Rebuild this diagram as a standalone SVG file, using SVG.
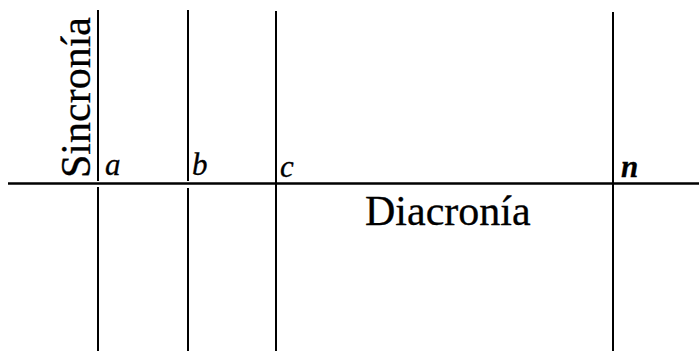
<svg xmlns="http://www.w3.org/2000/svg" width="699" height="351" viewBox="0 0 699 351">
<style>
.ln{stroke:#000;stroke-width:2;fill:none}
.ax{stroke:#000;stroke-width:2.6;fill:none}
.big{font-family:"Liberation Serif","Times New Roman",serif;font-size:42px;fill:#000;stroke:#000;stroke-width:0.3}
.lab{font-family:"Liberation Serif","Times New Roman",serif;font-style:italic;font-size:31px;fill:#000;stroke:#000;stroke-width:0.3}
</style>
<rect width="699" height="351" fill="#fff"/>
<g id="connectors">
<line class="ax" x1="8" y1="183.5" x2="699" y2="183.5"/>
<line class="ln" x1="98" y1="10" x2="98" y2="181"/>
<line class="ln" x1="98" y1="187" x2="98" y2="351"/>
<line class="ln" x1="188" y1="10" x2="188" y2="181"/>
<line class="ln" x1="188" y1="188" x2="188" y2="351"/>
<line class="ln" x1="276" y1="11" x2="276" y2="351"/>
<line class="ln" x1="613" y1="12" x2="613" y2="351"/>
</g>
<g id="sincronia"><text class="big" transform="translate(90,178) rotate(-90)">Sincronía</text></g>
<g id="diacronia"><text class="big" x="365" y="225" font-size="41">Diacronía</text></g>
<g id="a"><text class="lab" x="105" y="175">a</text></g>
<g id="b"><text class="lab" x="192" y="175">b</text></g>
<g id="c"><text class="lab" x="280" y="177" font-size="33">c</text></g>
<g id="n"><text class="lab" x="621" y="177" font-weight="bold" font-size="32">n</text></g>
</svg>
